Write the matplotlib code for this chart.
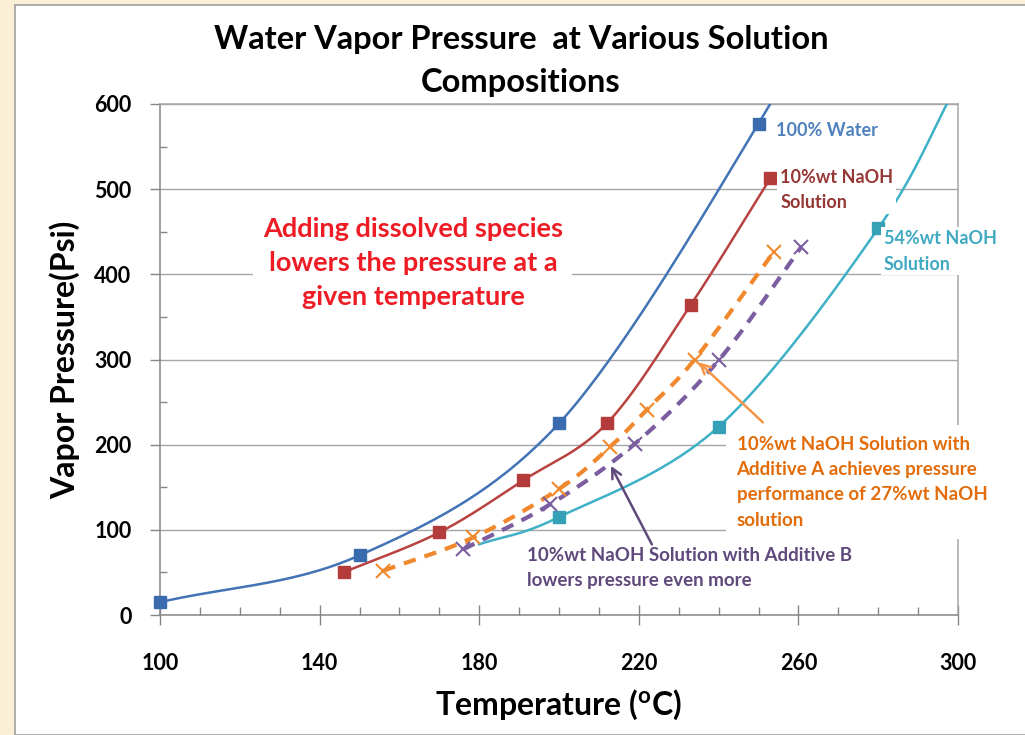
import numpy as np
import matplotlib
matplotlib.use("Agg")
import matplotlib.pyplot as plt
from matplotlib.patches import Rectangle
from matplotlib.ticker import MultipleLocator

plt.rcParams['font.family'] = ['Lato', 'DejaVu Sans']

# ---------------- data ----------------
water_T = [100, 150, 200, 250, 260]
water_P = [15, 70, 225, 577, 683]
water_mark = [0, 1, 2, 3]

naoh10_T = [146, 170, 191, 212, 233, 253]
naoh10_P = [50, 97, 158, 225, 364, 513]

naoh54_T = [180, 200, 240, 280, 300]
naoh54_P = [83, 115, 221, 454, 625]
naoh54_mark = [1, 2, 3]

addA_T = [156, 178.5, 200, 212.7, 222, 234, 253.8]
addA_P = [52, 91, 148, 197, 241, 300, 426]

addB_T = [176, 197.8, 219, 240, 260.7]
addB_P = [77, 130, 201, 299, 432]

x_ticks = [100, 140, 180, 220, 260, 300]
y_ticks = [0, 100, 200, 300, 400, 500, 600]

# ---------------- figure ----------------
W, H = 1025, 735
fig = plt.figure(figsize=(W / 100, H / 100), dpi=100)
fig.patch.set_facecolor('#FBF0D6')
fig.patches.append(Rectangle((15 / W, 0), 1, 1 - 5 / H, transform=fig.transFigure,
                             facecolor='white', edgecolor='#A0A0A0', lw=1.2, zorder=-5))

ax = fig.add_axes([160 / W, 1 - 615 / H, (958 - 160) / W, (615 - 104) / H])
ax.set_zorder(2)
ax.set_xlim(100, 300)
ax.set_ylim(0, 600)
ax.set_facecolor('none')


def smooth(xs, ys, n=40):
    """Catmull-Rom smoothing in normalised axes space (like Excel smoothed lines)."""
    sx, sy = 798 / 200.0, 511 / 600.0
    pts = np.column_stack([np.asarray(xs, float) * sx, np.asarray(ys, float) * sy])
    p = np.vstack([2 * pts[0] - pts[1], pts, 2 * pts[-1] - pts[-2]])
    out = []
    t = np.linspace(0, 1, n)[:, None]
    for i in range(1, len(p) - 2):
        p0, p1, p2, p3 = p[i - 1], p[i], p[i + 1], p[i + 2]
        seg = 0.5 * ((2 * p1) + (-p0 + p2) * t + (2 * p0 - 5 * p1 + 4 * p2 - p3) * t ** 2
                     + (-p0 + 3 * p1 - 3 * p2 + p3) * t ** 3)
        out.append(seg)
    c = np.vstack(out)
    return c[:, 0] / sx, c[:, 1] / sy


c_water = '#4273B5'
c_red = '#B7423F'
c_cyan = '#3EB0C7'
c_orange = '#F0892E'
c_purple = '#7B5EA0'

# water
xs, ys = smooth(water_T, water_P)
ax.plot(xs, ys, color=c_water, lw=1.8, zorder=4)
ax.plot([water_T[i] for i in water_mark], [water_P[i] for i in water_mark], 's',
        color='#3A6BAF', ms=8, zorder=6, clip_on=False)

# 10% NaOH
xs, ys = smooth(naoh10_T, naoh10_P)
ax.plot(xs, ys, color=c_red, lw=1.8, zorder=4)
ax.plot(naoh10_T, naoh10_P, 's', color='#B33C3A', ms=8, zorder=6)

# 54% NaOH
xs, ys = smooth(naoh54_T, naoh54_P)
ax.plot(xs, ys, color=c_cyan, lw=1.8, zorder=4)
ax.plot([naoh54_T[i] for i in naoh54_mark], [naoh54_P[i] for i in naoh54_mark], 's',
        color='#34A1B6', ms=8, zorder=6)

# additive A
xs, ys = smooth(addA_T, addA_P)
ax.plot(xs, ys, color=c_orange, lw=3, ls=(0, (3, 2.2)), zorder=5)
ax.plot(addA_T, addA_P, 'x', color=c_orange, ms=10, mew=1.5, zorder=6)

# additive B
xs, ys = smooth(addB_T, addB_P)
ax.plot(xs, ys, color=c_purple, lw=3, ls=(0, (3, 2.2)), zorder=5)
ax.plot(addB_T, addB_P, 'x', color=c_purple, ms=10, mew=1.5, zorder=6)

# ---------------- axes styling ----------------
ax.set_xticks(x_ticks)
ax.set_yticks(y_ticks)
ax.xaxis.set_minor_locator(MultipleLocator(10))
ax.yaxis.set_minor_locator(MultipleLocator(50))
ax.grid(axis='y', which='major', color='#A6A6A6', lw=1, zorder=1)
ax.set_axisbelow(True)
for s in ['left', 'bottom']:
    ax.spines[s].set_color('#868686')
    ax.spines[s].set_linewidth(1.1)
for s in ['top', 'right']:
    ax.spines[s].set_color('#A6A6A6')
    ax.spines[s].set_linewidth(1.1)

ax.tick_params(axis='x', which='major', direction='inout', length=14, width=1,
               color='#868686', pad=20, labelsize=15.5)
ax.tick_params(axis='x', which='minor', direction='in', length=6, width=1, color='#868686')
ax.tick_params(axis='y', which='major', direction='out', length=7, width=1,
               color='#868686', pad=13.5, labelsize=15.5)
ax.tick_params(axis='y', which='minor', direction='in', length=5, width=1, color='#868686')
for lab in ax.get_xticklabels() + ax.get_yticklabels():
    lab.set_fontweight('bold')

ax.set_xlabel('Temperature ($\\mathregular{^{o}}$C)', fontsize=23, fontweight='bold')
ax.set_ylabel('Vapor Pressure(Psi)', fontsize=23, fontweight='bold')
ax.xaxis.set_label_coords(0.4987, -0.142)
ax.yaxis.set_label_coords(-0.10, 0.5)

fig.text(521 / W, 1 - 61 / H, 'Water Vapor Pressure  at Various Solution\nCompositions',
         ha='center', va='center', fontsize=23.5, fontweight='bold', linespacing=1.55)

# ---------------- annotations ----------------
ax.text(254.4, 569, '100% Water', color='#4F81BD', fontsize=13, fontweight='bold',
        ha='left', va='center', zorder=7)
ax.text(255.4, 499, '10%wt NaOH\nSolution', color='#953735', fontsize=13, fontweight='bold',
        ha='left', va='center', linespacing=1.6, zorder=7,
        bbox=dict(boxstyle='square,pad=0.15', facecolor='white', edgecolor='none'))
ax.text(281.4, 427, '54%wt NaOH\nSolution', color='#3FA9C2', fontsize=13, fontweight='bold',
        ha='left', va='center', linespacing=1.6, zorder=7, clip_on=False,
        bbox=dict(boxstyle='square,pad=0.15', facecolor='white', edgecolor='none'))

ax.text(163.4, 413, 'Adding dissolved species\nlowers the pressure at a\ngiven temperature',
        color='#EE1C25', fontsize=19.5, fontweight='bold', ha='center', va='center',
        linespacing=1.5, zorder=3,
        bbox=dict(boxstyle='square,pad=0.35', facecolor='white', edgecolor='none'))

ax.text(244.5, 156, '10%wt NaOH Solution with\nAdditive A achieves pressure\n'
        'performance of 27%wt NaOH\nsolution', color='#E36C0A', fontsize=13.5,
        fontweight='bold', ha='left', va='center', linespacing=1.6, zorder=7, clip_on=False,
        bbox=dict(boxstyle='square,pad=0.55', facecolor='white', edgecolor='none'))

ax.text(192, 55, '10%wt NaOH Solution with Additive B\nlowers pressure even more',
        color='#5F497A', fontsize=13.5, fontweight='bold', ha='left', va='center',
        linespacing=1.55, zorder=7)

ax.annotate('', xy=(234.5, 299), xytext=(251.6, 224),
            arrowprops=dict(arrowstyle='->,head_length=0.7,head_width=0.35',
                            color='#F79646', lw=1.8), zorder=8)
ax.annotate('', xy=(212.7, 178), xytext=(223.6, 80),
            arrowprops=dict(arrowstyle='->,head_length=0.7,head_width=0.35',
                            color='#5F497A', lw=1.8), zorder=8)

fig.savefig('out.png', dpi=100, facecolor=fig.get_facecolor())
